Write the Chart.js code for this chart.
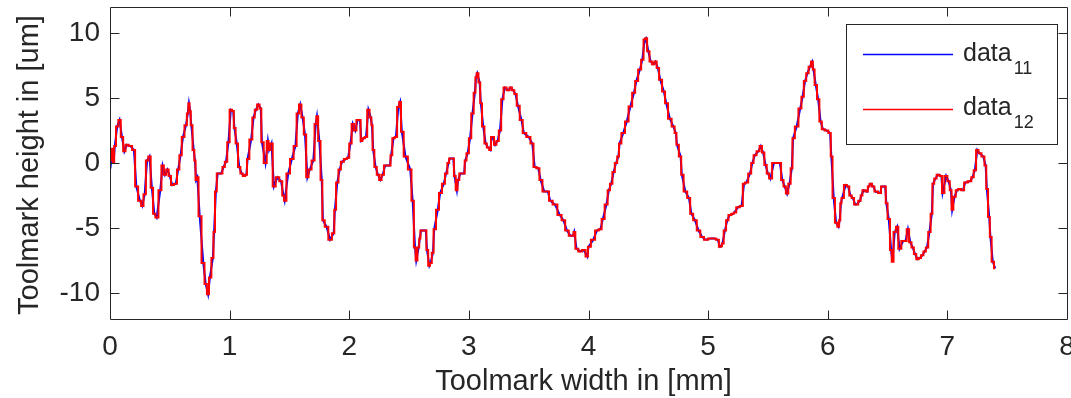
<!DOCTYPE html>
<html>
<head>
<meta charset="utf-8">
<title>Toolmark profile</title>
<script src="https://cdn.jsdelivr.net/npm/chart.js@4.4.1/dist/chart.umd.min.js"></script>
<style>
  html, body { margin: 0; padding: 0; background: #ffffff; }
  #wrap { width: 1071px; height: 398px; }
</style>
</head>
<body>
<div id="wrap"><canvas id="profile" width="1071" height="398"></canvas></div>
<script>
// Profile position along the toolmark, in mm
const widthMm = [
  0.00, 0.01, 0.02, 0.03, 0.04, 0.06, 0.08, 0.10, 0.12, 0.14, 0.17, 0.20, 0.22, 0.25, 0.27, 0.29,
  0.31, 0.33, 0.35, 0.37, 0.39, 0.42, 0.44, 0.46, 0.48, 0.50, 0.52, 0.55, 0.57, 0.59, 0.61, 0.635,
  0.65, 0.66, 0.67, 0.68, 0.70, 0.71, 0.72, 0.73, 0.75, 0.78, 0.80, 0.82, 0.835, 0.86, 0.87, 0.885,
  0.90, 0.93, 0.95, 0.97, 0.99, 1.01, 1.03, 1.04, 1.06, 1.08, 1.10, 1.12, 1.14, 1.15, 1.18, 1.20,
  1.22, 1.24, 1.26, 1.27, 1.30, 1.32, 1.33, 1.35, 1.37, 1.40, 1.43, 1.45, 1.46, 1.49, 1.52, 1.55,
  1.57, 1.59, 1.61, 1.63, 1.65, 1.67, 1.70, 1.72, 1.73, 1.75, 1.77, 1.78, 1.81, 1.84, 1.87, 1.88,
  1.90, 1.92, 1.94, 1.97, 1.99, 2.01, 2.03, 2.05, 2.07, 2.09, 2.10, 2.12, 2.14, 2.16, 2.18, 2.19,
  2.20, 2.22, 2.24, 2.26, 2.28, 2.30, 2.34, 2.35, 2.37, 2.39, 2.41, 2.425, 2.44, 2.47, 2.51, 2.53,
  2.55, 2.56, 2.58, 2.59, 2.60, 2.64, 2.65, 2.67, 2.68, 2.70, 2.71, 2.74, 2.76, 2.79, 2.81, 2.83,
  2.84, 2.87, 2.88, 2.90, 2.91, 2.93, 2.96, 2.97, 2.99, 3.01, 3.03, 3.05, 3.06, 3.07, 3.09, 3.10,
  3.12, 3.14, 3.16, 3.18, 3.19, 3.20, 3.22, 3.24, 3.26, 3.28, 3.30, 3.33, 3.35, 3.37, 3.39, 3.41,
  3.44, 3.46, 3.50, 3.53, 3.55, 3.58, 3.60, 3.63, 3.66, 3.68, 3.72, 3.76, 3.79, 3.82, 3.85, 3.87,
  3.88, 3.90, 3.93, 3.96, 3.99, 4.00, 4.04, 4.07, 4.10, 4.12, 4.15, 4.17, 4.19, 4.21, 4.23, 4.25,
  4.26, 4.29, 4.32, 4.35, 4.38, 4.40, 4.43, 4.45, 4.47, 4.48, 4.50, 4.52, 4.54, 4.56, 4.58, 4.60,
  4.63, 4.65, 4.68, 4.71, 4.73, 4.74, 4.77, 4.78, 4.81, 4.84, 4.86, 4.89, 4.92, 4.95, 4.98, 5.02,
  5.05, 5.08, 5.10, 5.11, 5.12, 5.14, 5.16, 5.18, 5.21, 5.22, 5.25, 5.28, 5.30, 5.32, 5.35, 5.37,
  5.39, 5.42, 5.44, 5.46, 5.48, 5.50, 5.52, 5.55, 5.60, 5.62, 5.64, 5.66, 5.68, 5.70, 5.71, 5.74,
  5.77, 5.79, 5.81, 5.83, 5.85, 5.87, 5.88, 5.90, 5.92, 5.94, 5.96, 5.99, 6.02, 6.03, 6.05, 6.07,
  6.09, 6.10, 6.11, 6.12, 6.15, 6.17, 6.19, 6.21, 6.23, 6.24, 6.27, 6.28, 6.30, 6.33, 6.34, 6.36,
  6.38, 6.40, 6.44, 6.45, 6.48, 6.49, 6.51, 6.53, 6.54, 6.56, 6.58, 6.60, 6.63, 6.65, 6.67, 6.69,
  6.71, 6.73, 6.75, 6.77, 6.79, 6.81, 6.83, 6.85, 6.87, 6.88, 6.90, 6.92, 6.95, 6.96, 6.99, 7.01,
  7.03, 7.04, 7.06, 7.08, 7.10, 7.13, 7.15, 7.19, 7.21, 7.23, 7.25, 7.27, 7.30, 7.32, 7.33, 7.35,
  7.36, 7.38, 7.40
];

// Measured profile height at each position, in um
const heightUm = [
  1.0, 0.2, 1.1, 0.0, 1.3, 2.8, 3.3, 2.0, 0.9, 1.4, 1.3, 1.0, -1.8, -2.9, -3.3, -2.4,
  0.2, 0.5, -1.9, -3.9, -4.2, -2.1, -0.2, -0.9, -0.5, -1.0, -1.7, -1.6, -0.5, 0.6, 2.0, 2.9,
  3.8, 4.6, 4.0, 2.9, 1.0, 0.2, -1.3, -1.1, -4.1, -7.7, -9.3, -10.1, -8.8, -7.3, -5.3, -2.2,
  -0.8, -0.8, -0.3, 0.1, 1.6, 4.1, 4.0, 2.7, 1.5, -0.3, -0.8, -1.0, -0.9, 0.3, 1.8, 3.5,
  4.1, 4.5, 4.2, 1.6, 0.0, 1.7, 1.0, 1.5, -1.8, -1.1, -1.4, -2.5, -2.9, -0.8, 0.3, 1.3,
  3.8, 4.5, 3.5, 2.2, -1.1, -0.5, 0.2, 3.0, 3.6, 1.7, -1.3, -4.4, -4.9, -5.9, -5.4, -3.6,
  -1.5, -0.5, 0.1, 0.3, 0.4, 1.5, 3.0, 2.5, 3.3, 3.3, 1.7, 1.9, 2.0, 4.1, 3.5, 2.9,
  1.0, -0.3, -0.9, -1.3, -0.9, -0.2, -0.2, 0.6, 1.9, 2.0, 4.3, 4.7, 2.4, 0.5, -0.5, -2.9,
  -6.5, -7.5, -6.5, -5.8, -5.2, -5.2, -6.7, -7.9, -7.7, -6.9, -5.1, -3.6, -2.3, -1.6, -0.8, 0.0,
  0.35, 0.35, -1.0, -2.1, -1.3, -0.8, -0.8, 0.2, 0.75, 1.9, 3.8, 5.4, 6.6, 6.9, 6.2, 4.6,
  2.8, 1.5, 1.2, 1.0, 2.0, 2.0, 1.4, 1.7, 2.5, 4.9, 5.8, 5.6, 5.8, 5.6, 5.3, 4.4,
  3.3, 2.3, 2.0, 1.5, -0.3, -0.4, -1.3, -2.2, -2.2, -2.9, -3.2, -4.0, -4.4, -5.2, -5.6, -5.6,
  -5.3, -6.6, -6.8, -6.7, -7.2, -6.45, -5.9, -5.2, -5.1, -4.3, -3.2, -2.1, -1.6, -0.7, 0.0, 0.5,
  1.5, 2.3, 3.2, 4.35, 5.4, 6.3, 7.2, 7.95, 9.5, 9.6, 8.6, 7.8, 7.6, 7.8, 7.3, 6.4,
  5.5, 4.6, 3.4, 2.8, 2.3, 1.4, 0.5, -0.9, -2.2, -2.7, -3.9, -4.4, -5.2, -5.7, -5.9, -5.8,
  -5.8, -5.9, -6.45, -6.4, -6.2, -5.2, -4.4, -4.0, -3.9, -3.8, -3.4, -3.3, -1.6, -1.5, -0.8, 0.0,
  0.6, 0.9, 1.3, 0.8, -0.15, -0.8, -1.2, 0.0, 0.0, -1.3, -1.8, -2.35, -1.6, -0.4, 1.9, 2.8,
  4.2, 5.1, 6.3, 6.9, 7.4, 7.8, 7.2, 6.0, 4.9, 3.2, 2.6, 2.5, 2.3, 0.5, -2.7, -4.6,
  -4.9, -4.4, -3.1, -2.7, -1.7, -1.8, -2.5, -2.7, -3.2, -3.2, -2.9, -2.5, -2.1, -2.2, -1.8, -1.6,
  -1.8, -2.2, -2.3, -1.8, -1.8, -3.1, -4.3, -6.7, -7.6, -5.3, -4.9, -6.6, -6.0, -6.0, -5.1, -6.1,
  -6.5, -7.0, -7.4, -7.3, -7.1, -6.8, -6.5, -5.3, -3.9, -1.6, -1.2, -0.9, -1.0, -2.3, -1.0, -1.4,
  -2.1, -3.6, -2.6, -2.1, -2.0, -2.1, -1.5, -1.4, -1.1, -0.55, 1.0, 0.75, 0.5, -0.2, -2.0, -4.15,
  -5.7, -7.6, -8.1
];

// Axis ticks and labels
const xTickValues = [0, 1, 2, 3, 4, 5, 6, 7, 8];
const yTickValues = [-10, -5, 0, 5, 10];
const xTitle = 'Toolmark width in [mm]';
const yTitle = 'Toolmark height in [um]';

// Legend entries: base name and subscript
const seriesNames = ['data', 'data'];
const seriesSubs = ['11', '12'];
const seriesColors = ['rgb(0,0,255)', 'rgb(255,0,0)'];

const FONT = '"Liberation Sans", Arial, Helvetica, sans-serif';
const INK = '#262626';

const points = () => widthMm.map((x, i) => ({ x: x, y: heightUm[i] }));

// Box frame with inward ticks on all four sides, axis titles and the legend
const decorations = {
  id: 'decorations',
  afterDraw(chart) {
    const { ctx, chartArea: a, scales } = chart;
    const xs = scales.x, ys = scales.y;
    const L = a.left + 0.5, R = a.right + 0.5, T = a.top + 0.5, B = a.bottom + 0.5;
    const tickLen = 9;
    ctx.save();
    ctx.strokeStyle = INK;
    ctx.lineWidth = 1;
    ctx.beginPath();
    ctx.rect(L, T, R - L, B - T);
    xs.ticks.forEach(t => {
      const px = Math.round(xs.getPixelForValue(t.value)) + 0.5;
      if (px <= L + 1 || px >= R - 1) return;
      ctx.moveTo(px, B); ctx.lineTo(px, B - tickLen);
      ctx.moveTo(px, T); ctx.lineTo(px, T + tickLen);
    });
    ys.ticks.forEach(t => {
      const py = Math.round(ys.getPixelForValue(t.value)) + 0.5;
      if (py <= T + 1 || py >= B - 1) return;
      ctx.moveTo(L, py); ctx.lineTo(L + tickLen, py);
      ctx.moveTo(R, py); ctx.lineTo(R - tickLen, py);
    });
    ctx.stroke();

    // axis titles
    ctx.fillStyle = INK;
    ctx.font = '29px ' + FONT;
    ctx.textAlign = 'center';
    ctx.textBaseline = 'alphabetic';
    ctx.fillText(xTitle, (a.left + a.right) / 2 - 5, 390);
    ctx.save();
    ctx.translate(38, (a.top + a.bottom) / 2 + 2);
    ctx.rotate(-Math.PI / 2);
    ctx.fillText(yTitle, 0, 0);
    ctx.restore();

    // legend box
    const bx = 846.5, by = 24.5, bw = 211, bh = 120;
    ctx.fillStyle = '#ffffff';
    ctx.fillRect(bx, by, bw, bh);
    ctx.strokeStyle = INK;
    ctx.lineWidth = 1;
    ctx.strokeRect(bx, by, bw, bh);
    seriesNames.forEach((name, i) => {
      const ly = 54.5 + i * 55;
      ctx.strokeStyle = seriesColors[i];
      ctx.lineWidth = 1.5;
      ctx.beginPath();
      ctx.moveTo(863, ly); ctx.lineTo(953, ly);
      ctx.stroke();
      ctx.fillStyle = INK;
      ctx.textAlign = 'left';
      ctx.font = '25px ' + FONT;
      ctx.fillText(name, 963, 61 + i * 54);
      const w = ctx.measureText(name).width;
      ctx.font = '18px ' + FONT;
      ctx.fillText(seriesSubs[i], 963 + w + 2, 74 + i * 54);
    });
    ctx.restore();
  }
};

new Chart(document.getElementById('profile'), {
  type: 'line',
  data: {
    datasets: [
      {
        // straight segments between samples, underneath
        label: seriesNames[0] + seriesSubs[0],
        data: points(),
        borderColor: seriesColors[0],
        borderWidth: 2,
        pointRadius: 0,
        stepped: false,
        tension: 0,
        fill: false,
        order: 2
      },
      {
        // sample-and-hold trace on top
        label: seriesNames[1] + seriesSubs[1],
        data: points(),
        borderColor: seriesColors[1],
        borderWidth: 2,
        pointRadius: 0,
        stepped: 'middle',
        fill: false,
        order: 1
      }
    ]
  },
  options: {
    responsive: false,
    animation: false,
    devicePixelRatio: 1,
    layout: { padding: { top: 7, right: 4, left: 0, bottom: 0 } },
    plugins: { legend: { display: false }, tooltip: { enabled: false } },
    scales: {
      x: {
        type: 'linear',
        min: 0, max: 8,
        grid: { display: false, drawTicks: false },
        border: { display: false },
        afterBuildTicks: s => { s.ticks = xTickValues.map(v => ({ value: v })); },
        afterFit: s => { s.height = 79; s.paddingLeft = 0; s.paddingRight = 0; },
        ticks: {
          padding: 11,
          maxRotation: 0,
          autoSkip: false,
          color: INK,
          font: { family: FONT, size: 28 }
        }
      },
      y: {
        type: 'linear',
        min: -12, max: 12,
        grid: { display: false, drawTicks: false },
        border: { display: false },
        afterBuildTicks: s => { s.ticks = yTickValues.map(v => ({ value: v })); },
        afterFit: s => { s.width = 110; s.paddingTop = 0; s.paddingBottom = 0; },
        ticks: {
          padding: 10,
          autoSkip: false,
          color: INK,
          font: { family: FONT, size: 28 }
        }
      }
    }
  },
  plugins: [decorations]
});
</script>
</body>
</html>
